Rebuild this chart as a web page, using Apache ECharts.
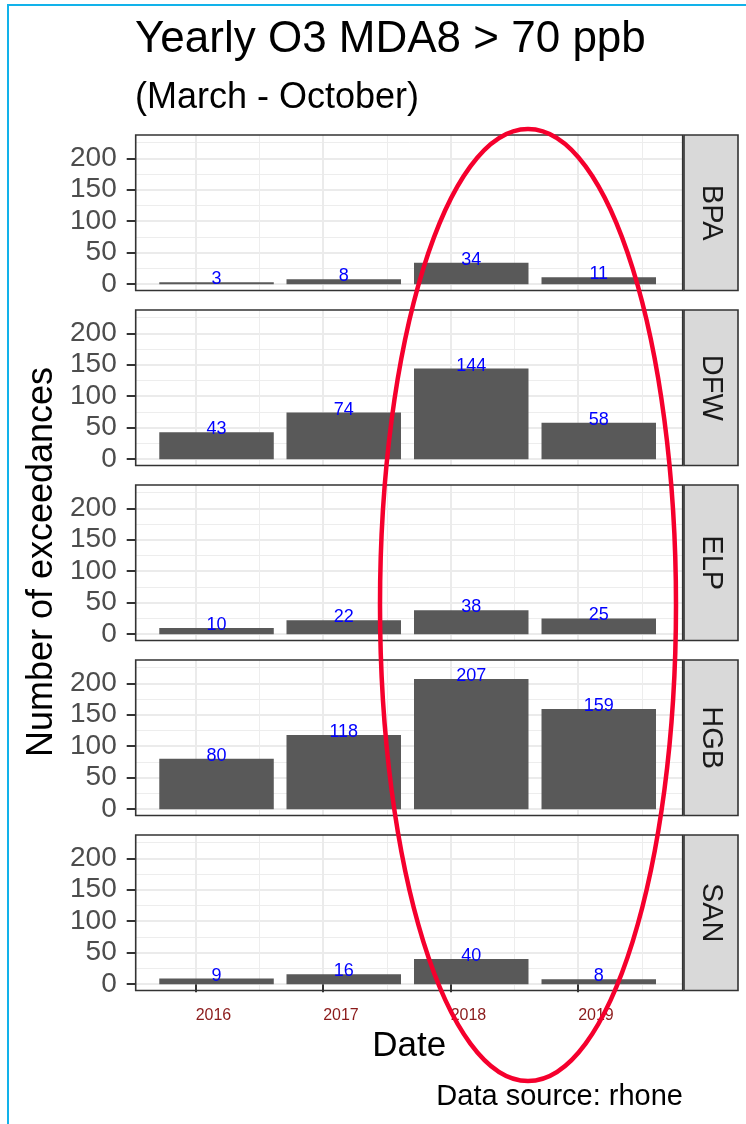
<!DOCTYPE html>
<html><head><meta charset="utf-8">
<script src="https://cdn.jsdelivr.net/npm/echarts@6/dist/echarts.min.js"></script>
<style>html,body{margin:0;padding:0;background:#fff}#c{width:746px;height:1124px}</style>
</head><body><div id="c"></div>
<script>
// ---- data ----
const sites = ['BPA', 'DFW', 'ELP', 'HGB', 'SAN'];
const barDates = ['2016-03-01', '2017-03-01', '2018-03-01', '2019-03-01'];
const yearTicks = [2016, 2017, 2018, 2019];
const countTicks = [0, 50, 100, 150, 200];
const BPA = [3, 8, 34, 11];
const DFW = [43, 74, 144, 58];
const ELP = [10, 22, 38, 25];
const HGB = [80, 118, 207, 159];
const SAN = [9, 16, 40, 8];
const seriesValues = [BPA, DFW, ELP, HGB, SAN];
const titleText = 'Yearly O3 MDA8 > 70 ppb';
const subtitleText = '(March - October)';
const xTitle = 'Date';
const yTitle = 'Number of exceedances';
const captionText = 'Data source: rhone';

// ---- helpers ----
function decimalYear(s) {
  const d = Date.parse(s + 'T00:00:00Z');
  const y = new Date(d).getUTCFullYear();
  const a = Date.UTC(y, 0, 1), b = Date.UTC(y + 1, 0, 1);
  return y + (d - a) / (b - a);
}
const FONT = '"Liberation Sans", Arial, Helvetica, sans-serif';
const L = 135.7, W = 547, T0 = 135, STEP = 175, H = 155.5;
const STRIP_W = 54;

const grids = [], xAxes = [], yAxes = [], series = [], graphics = [];

sites.forEach((site, i) => {
  const top = T0 + i * STEP;
  const last = i === sites.length - 1;
  grids.push({ left: L, top: top, width: W, height: H, containLabel: false, outerBoundsMode: 'none' });
  xAxes.push({
    type: 'value', gridIndex: i, min: 2015.53, max: 2019.82, splitNumber: 5,
    axisLine: { show: false },
    axisTick: { show: last, length: 8, lineStyle: { color: '#333333', width: 2 }, customValues: yearTicks },
    axisLabel: {
      show: last, customValues: yearTicks, align: 'left', margin: 17,
      color: '#8B1A1A', fontSize: 16, fontFamily: FONT,
      formatter: v => (Math.abs(v - Math.round(v)) < 1e-6 ? String(Math.round(v)) : '')
    },
    splitLine: { show: true, lineStyle: { color: '#EBEBEB', width: 2 } },
    minorTick: { show: false, splitNumber: 2 },
    minorSplitLine: { show: true, lineStyle: { color: '#EDEDED', width: 1 } }
  });
  yAxes.push({
    type: 'value', gridIndex: i, min: -10, max: 237, splitNumber: 5,
    axisLine: { show: false },
    axisTick: { show: true, length: 9, lineStyle: { color: '#333333', width: 2 }, customValues: countTicks },
    axisLabel: {
      customValues: countTicks, margin: 19, color: '#4D4D4D', fontSize: 28, fontFamily: FONT,
      formatter: v => (v % 50 === 0 ? String(v) : '')
    },
    splitLine: { show: true, lineStyle: { color: '#EBEBEB', width: 2 } },
    minorTick: { show: false, splitNumber: 2 },
    minorSplitLine: { show: true, lineStyle: { color: '#EDEDED', width: 1 } }
  });
  series.push({
    type: 'bar', xAxisIndex: i, yAxisIndex: i, barWidth: '90%',
    data: barDates.map((d, k) => [decimalYear(d), seriesValues[i][k]]),
    itemStyle: { color: '#595959' },
    label: {
      show: true, position: 'top', distance: -6, color: '#0000FF', fontSize: 18, fontFamily: FONT,
      formatter: p => String(p.value[1])
    },
    emphasis: { disabled: true }, silent: true, animation: false
  });
  // panel border
  graphics.push({ type: 'rect', z: 50, silent: true,
    shape: { x: L, y: top, width: W, height: H },
    style: { fill: null, stroke: '#333333', lineWidth: 1.6 } });
  // strip
  graphics.push({ type: 'rect', z: 50, silent: true,
    shape: { x: L + W + 1.3, y: top, width: STRIP_W, height: H },
    style: { fill: '#D9D9D9', stroke: '#333333', lineWidth: 1.6 } });
  graphics.push({ type: 'text', z: 51, silent: true,
    x: L + W + 1.3 + STRIP_W / 2, y: top + H / 2, rotation: -Math.PI / 2,
    style: { text: site, fill: '#1A1A1A', font: '29px ' + FONT, align: 'center', verticalAlign: 'middle' } });
});

// titles and annotations
graphics.push(
  { type: 'text', z: 60, silent: true, x: 135, y: 40,
    style: { text: titleText, fill: '#000', font: '44px ' + FONT, align: 'left', verticalAlign: 'middle' } },
  { type: 'text', z: 60, silent: true, x: 135, y: 98,
    style: { text: subtitleText, fill: '#000', font: '36px ' + FONT, align: 'left', verticalAlign: 'middle' } },
  { type: 'text', z: 60, silent: true, x: L + W / 2, y: 1046,
    style: { text: xTitle, fill: '#000', font: '35px ' + FONT, align: 'center', verticalAlign: 'middle' } },
  { type: 'text', z: 60, silent: true, x: 42, y: 562, rotation: Math.PI / 2,
    style: { text: yTitle, fill: '#000', font: '36px ' + FONT, align: 'center', verticalAlign: 'middle' } },
  { type: 'text', z: 60, silent: true, x: 683, y: 1097,
    style: { text: captionText, fill: '#000', font: '29px ' + FONT, align: 'right', verticalAlign: 'middle' } },
  { type: 'ellipse', z: 80, silent: true,
    shape: { cx: 528, cy: 605, rx: 148, ry: 476 },
    style: { fill: null, stroke: '#F5002D', lineWidth: 4.5 } },
  { type: 'rect', z: 90, silent: true,
    shape: { x: 8, y: 5, width: 800, height: 1300 },
    style: { fill: null, stroke: '#12B2EA', lineWidth: 2 } }
);

const chart = echarts.init(document.getElementById('c'));
chart.setOption({
  animation: false,
  backgroundColor: '#ffffff',
  grid: grids, xAxis: xAxes, yAxis: yAxes, series: series,
  graphic: graphics
});
</script></body></html>
